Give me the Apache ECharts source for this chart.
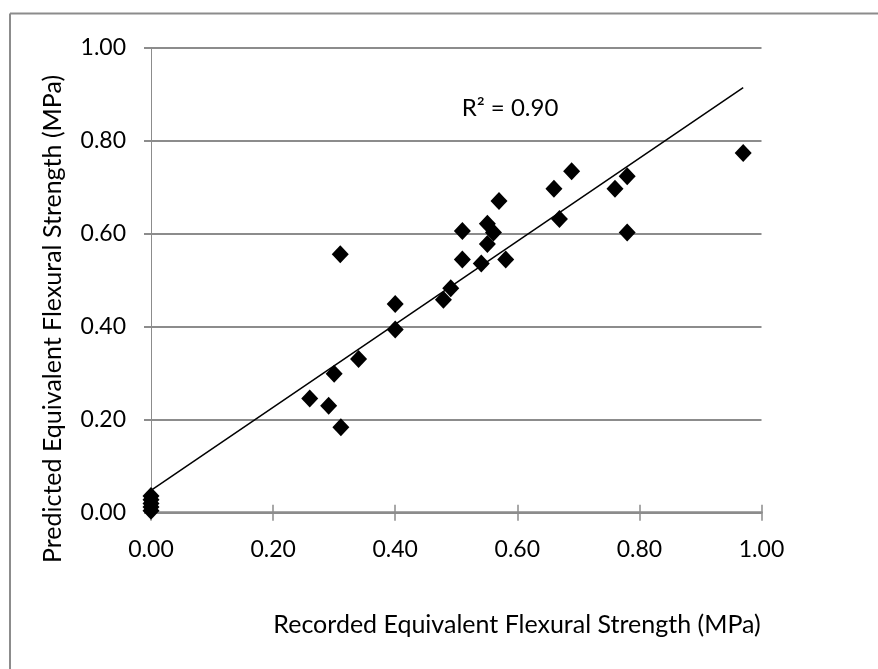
<!DOCTYPE html>
<html>
<head>
<meta charset="utf-8">
<script src="https://cdn.jsdelivr.net/npm/echarts@6/dist/echarts.min.js"></script>
<style>
html,body{margin:0;padding:0;background:#fff;}
#chart{width:878px;height:669px;}
</style>
</head>
<body>
<div id="chart"></div>
<script>
// Recorded equivalent flexural strength (MPa)
const recorded = [0.970, 0.780, 0.760, 0.780, 0.689, 0.660, 0.669, 0.570, 0.551, 0.561,
                  0.551, 0.510, 0.510, 0.541, 0.581, 0.310, 0.400, 0.400, 0.491, 0.479,
                  0.340, 0.300, 0.260, 0.291, 0.311, 0.000, 0.000, 0.000, 0.000, 0.000];
// Predicted equivalent flexural strength (MPa)
const predicted = [0.774, 0.724, 0.697, 0.603, 0.735, 0.697, 0.632, 0.671, 0.622, 0.603,
                   0.578, 0.606, 0.545, 0.536, 0.545, 0.556, 0.449, 0.394, 0.483, 0.458,
                   0.331, 0.299, 0.246, 0.230, 0.184, 0.036, 0.028, 0.020, 0.012, 0.004];
const tickValues = [0, 0.2, 0.4, 0.6, 0.8, 1.0];
const r2Label = 'R\u00B2 = 0.90';
const r2Position = [0.588, 0.870];
const xTitle = 'Recorded Equivalent Flexural Strength (MPa)';
const yTitle = 'Predicted Equivalent Flexural Strength (MPa)';

// least-squares linear trend from the data
const n = recorded.length;
let sx = 0, sy = 0, sxx = 0, sxy = 0;
for (let i = 0; i < n; i++) { sx += recorded[i]; sy += predicted[i]; sxx += recorded[i]*recorded[i]; sxy += recorded[i]*predicted[i]; }
const slope = (n*sxy - sx*sy) / (n*sxx - sx*sx);
const intercept = (sy - slope*sx) / n;
const xMin = Math.min(...recorded), xMax = Math.max(...recorded);
const trend = [[xMin, intercept + slope*xMin], [xMax, intercept + slope*xMax]];

const points = recorded.map((x, i) => [x, predicted[i]]);
const FONT = 'Lato';
const GRAY = '#8c8c8c';

const chart = echarts.init(document.getElementById('chart'), null, {renderer: 'canvas'});
const option = {
  animation: false,
  backgroundColor: '#fff',
  grid: {left: 151, top: 48, right: 116.5, bottom: 156.3, containLabel: false},
  xAxis: [{
    type: 'value', min: 0, max: 1, interval: 0.2,
    axisLine: {show: true, lineStyle: {color: GRAY, width: 2.5}},
    axisTick: {show: true, length: 8, lineStyle: {color: GRAY, width: 1.5}},
    axisLabel: {margin: 25, fontFamily: FONT, fontSize: 23, color: '#000', formatter: v => v.toFixed(2)},
    splitLine: {show: false}
  }, {
    type: 'value', min: 0, max: 1, interval: 0.2, position: 'bottom',
    axisLine: {show: false},
    axisTick: {show: true, inside: true, length: 8, lineStyle: {color: GRAY, width: 1.5}},
    axisLabel: {show: false},
    splitLine: {show: false}
  }],
  yAxis: {
    type: 'value', min: 0, max: 1, interval: 0.2,
    axisLine: {show: true, lineStyle: {color: GRAY, width: 1}},
    axisTick: {show: true, length: 7, lineStyle: {color: GRAY, width: 2}},
    axisLabel: {margin: 25, fontFamily: FONT, fontSize: 23, color: '#000', formatter: v => v.toFixed(2)},
    splitLine: {show: true, lineStyle: {color: GRAY, width: 2}}
  },
  series: [{
    type: 'line',
    data: trend,
    symbol: 'none',
    lineStyle: {color: '#000', width: 1.5},
    z: 3
  }, {
    type: 'scatter',
    data: points,
    symbol: 'diamond',
    symbolSize: [17, 18],
    itemStyle: {color: '#000', opacity: 1},
    z: 4
  }]
};
chart.setOption(option);
const p = chart.convertToPixel({gridIndex: 0}, r2Position);
chart.setOption({graphic: [
  {type: 'line', shape: {x1: 10, y1: 13.5, x2: 878, y2: 13.5}, style: {stroke: GRAY, lineWidth: 2}},
  {type: 'line', shape: {x1: 10, y1: 13.5, x2: 10, y2: 669}, style: {stroke: GRAY, lineWidth: 2}},
  {type: 'text', x: 517, y: 625, style: {text: xTitle, font: '25px ' + FONT, fill: '#000', textAlign: 'center', textVerticalAlign: 'middle'}},
  {type: 'text', x: 53, y: 319, rotation: Math.PI/2, style: {text: yTitle, font: '25px ' + FONT, fill: '#000', textAlign: 'center', textVerticalAlign: 'middle'}},
  {type: 'text', x: p[0], y: p[1], style: {text: r2Label, font: '24px ' + FONT, fill: '#000', textAlign: 'center', textVerticalAlign: 'middle'}}
]});
</script>
</body>
</html>
